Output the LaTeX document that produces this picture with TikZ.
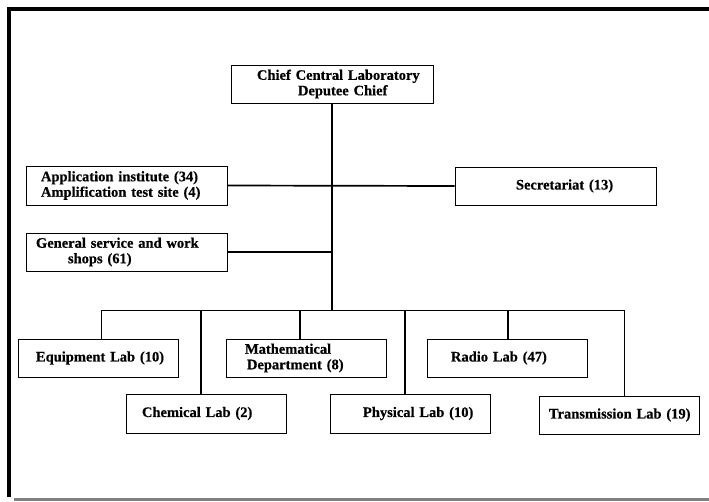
\documentclass[tikz,border=0pt]{standalone}
\usepackage{fontspec}
\setmainfont{Liberation Serif}
\newfontfamily\boxfont{Liberation Serif}[BoldFeatures={FakeBold=0.5}]
\begin{document}
\begin{tikzpicture}[x=1pt,y=-1pt,
  box/.style={draw=black, line width=0.8pt, rectangle, inner sep=0pt,
    align=left, font=\fontsize{14.5}{15.5}\boxfont\bfseries},
  heavy/.style={line width=1.7pt},
  light/.style={line width=1pt}]
\useasboundingbox (0,0) rectangle (709,501);
% page frame
\fill[black] (7,7) rectangle (709,11);
\fill[black] (7,7) rectangle (11,497);
\fill[gray] (14,498) rectangle (709,501);

% management
\node[box, minimum width=202pt, minimum height=38pt, text width=202pt] (chief) at (332,84)
  {\hspace*{26pt}Chief Central Laboratory\\\hspace*{67pt}Deputee Chief};
\node[box, minimum width=201pt, minimum height=39pt, text width=201pt] (app) at (126.5,185.5)
  {\hspace*{15pt}Application institute (34)\\\hspace*{15pt}Amplification test site (4)};
\node[box, minimum width=201pt, minimum height=38pt, text width=201pt] (sec) at (555.5,186)
  {\hspace*{61pt}Secretariat (13)};
\node[box, minimum width=201pt, minimum height=38pt, text width=201pt] (gen) at (126.5,252)
  {\hspace*{10pt}General service and work\\\hspace*{42pt}shops (61)};

% laboratories, upper row
\node[box, minimum width=160pt, minimum height=38pt, text width=160pt] (equip) at (98,358)
  {\hspace*{18pt}Equipment Lab (10)};
\node[box, minimum width=160pt, minimum height=38pt, text width=160pt] (math) at (306,358)
  {\hspace*{19pt}Mathematical\\\hspace*{21pt}Department (8)};
\node[box, minimum width=160pt, minimum height=38pt, text width=160pt] (radio) at (507,358)
  {\hspace*{24pt}Radio Lab (47)};

% laboratories, lower row
\node[box, minimum width=160pt, minimum height=39pt, text width=160pt] (chem) at (206,413.5)
  {\hspace*{16pt}Chemical Lab (2)};
\node[box, minimum width=160pt, minimum height=39pt, text width=160pt] (phys) at (410,413.5)
  {\hspace*{33pt}Physical Lab (10)};
\node[box, minimum width=160pt, minimum height=38pt, text width=160pt] (trans) at (619,415)
  {\hspace*{10pt}Transmission Lab (19)};

% trunk and bus
\coordinate (hub) at (332,310);
\coordinate (b1) at (101,310);
\coordinate (b2) at (201,310);
\coordinate (b3) at (300,310);
\coordinate (b4) at (405,310);
\coordinate (b5) at (508,310);
\coordinate (b6) at (624,310);

\draw[heavy] (chief.south) -- (hub);
\draw[heavy] (app.east) -- (sec.west);
\draw[heavy] (gen.east) -- (gen.east -| hub);
\draw[light] (b1) -- (b6);

% drops to the labs
\draw[light] (b1) -- (b1 |- equip.north);
\draw[heavy] (b2) -- (b2 |- chem.north);
\draw[heavy] (b3) -- (b3 |- math.north);
\draw[heavy] (b4) -- (b4 |- phys.north);
\draw[heavy] (b5) -- (b5 |- radio.north);
\draw[light] (b6) -- (b6 |- trans.north);
\end{tikzpicture}
\end{document}
